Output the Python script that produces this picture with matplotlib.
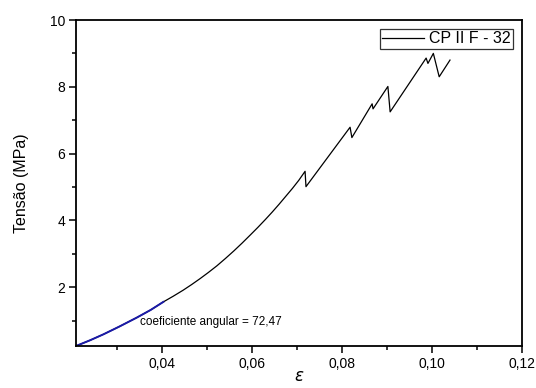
import matplotlib
matplotlib.use("Agg")
import matplotlib.pyplot as plt
from matplotlib.ticker import FixedLocator, FuncFormatter

plt.rcParams['font.family'] = ['Liberation Sans', 'DejaVu Sans']

# Data
fit_strain = [0.0209, 0.0240, 0.0270, 0.0305, 0.0344, 0.0375, 0.0403]
fit_stress = [0.24, 0.41, 0.59, 0.82, 1.09, 1.32, 1.56]

strain = [0.0209, 0.0240, 0.0270, 0.0305, 0.0344, 0.0375, 0.0403,
          0.0425, 0.0447, 0.0466, 0.0485, 0.0503, 0.0522, 0.0541, 0.0560,
          0.0578, 0.0596, 0.0613, 0.0630, 0.0645, 0.0660, 0.0675, 0.0690,
          0.0704, 0.0718, 0.0720, 0.0818, 0.0822, 0.0867, 0.0869, 0.0902,
          0.0907, 0.0987, 0.0991, 0.1003, 0.1016, 0.1040]
stress = [0.24, 0.41, 0.59, 0.82, 1.09, 1.32, 1.56,
          1.73, 1.91, 2.08, 2.26, 2.44, 2.64, 2.86, 3.09,
          3.32, 3.56, 3.79, 4.03, 4.25, 4.48, 4.72, 4.96,
          5.20, 5.47, 5.01, 6.79, 6.48, 7.49, 7.34, 8.01,
          7.25, 8.86, 8.70, 9.00, 8.30, 8.80]

x_major = [0.04, 0.06, 0.08, 0.10, 0.12]
x_minor = [0.03, 0.05, 0.07, 0.09, 0.11]
y_major = [2, 4, 6, 8, 10]
y_minor = [1, 3, 5, 7, 9]

series_label = "CP II F - 32"
annotation = "coeficiente angular = 72,47"

fig = plt.figure(figsize=(5.36, 3.88), dpi=100)
ax = fig.add_axes([76/536, 1-346/388, 446/536, 326/388])

ax.plot(strain, stress, color='black', lw=0.9, label=series_label)
ax.plot(fit_strain, fit_stress, color='#1a1aa8', lw=1.4)

ax.set_xlim(0.0209, 0.12)
ax.set_ylim(0.24, 10)

ax.xaxis.set_major_locator(FixedLocator(x_major))
ax.xaxis.set_minor_locator(FixedLocator(x_minor))
ax.yaxis.set_major_locator(FixedLocator(y_major))
ax.yaxis.set_minor_locator(FixedLocator(y_minor))
ax.xaxis.set_major_formatter(FuncFormatter(lambda v, p: f"{v:.2f}".replace('.', ',')))
ax.yaxis.set_major_formatter(FuncFormatter(lambda v, p: f"{v:g}"))

ax.tick_params(which='major', direction='out', length=5, width=1.1, labelsize=10, pad=3)
ax.tick_params(which='minor', direction='out', length=3, width=1.1)
for s in ax.spines.values():
    s.set_linewidth(1.3)

ax.text(0.0351, 0.955, annotation, fontsize=8.5, va='center', ha='left')

ax.set_xlabel(r'$\varepsilon$', fontsize=12)
ax.xaxis.set_label_coords(0.5, -0.095)
ax.xaxis.label.set_va('center')
ax.set_ylabel('Tensão (MPa)', fontsize=11.5)
ax.yaxis.set_label_coords(-0.123, 0.5)
ax.yaxis.label.set_va('center')

leg = ax.legend(loc='upper right', fontsize=11.5, frameon=True, fancybox=False,
                edgecolor='black', borderpad=0.15, handlelength=2.6,
                handletextpad=0.35, borderaxespad=0.55)
leg.get_frame().set_linewidth(0.9)

fig.savefig('out.png', dpi=100)
